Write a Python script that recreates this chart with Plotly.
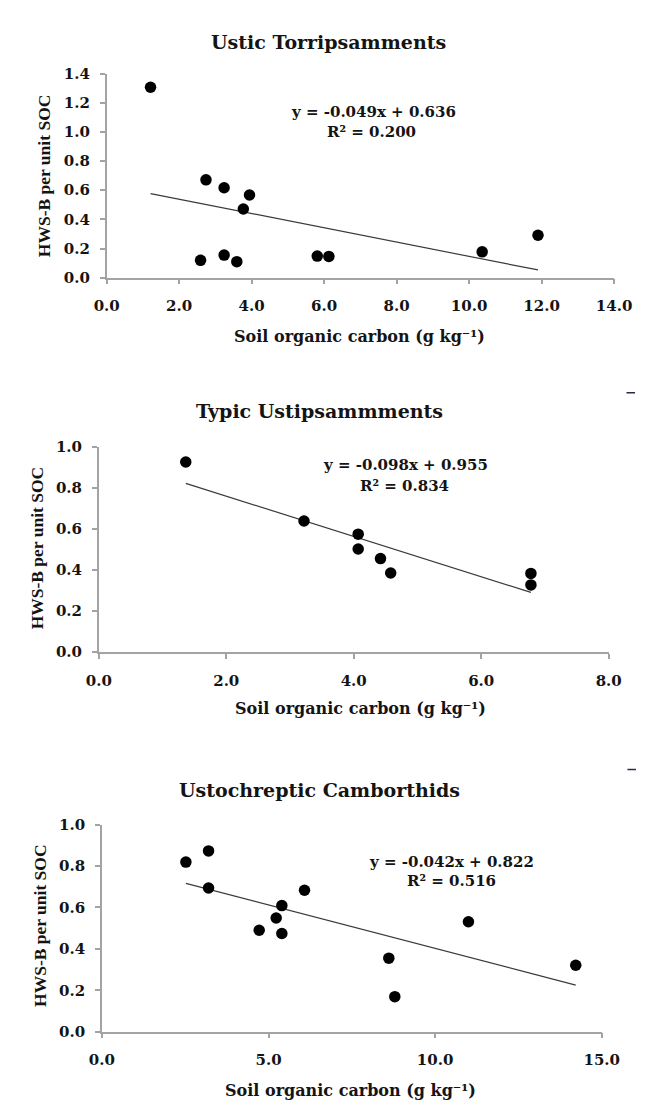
import plotly.graph_objects as go

W, H = 646, 1103

# ---------------- data ----------------
titles = ["Ustic Torripsamments", "Typic Ustipsammments", "Ustochreptic Camborthids"]

soc_1 = [1.21, 2.74, 3.24, 3.94, 3.77, 2.59, 3.24, 3.59, 5.81, 6.13, 10.36, 11.90]
hws_1 = [1.306, 0.671, 0.617, 0.567, 0.471, 0.119, 0.155, 0.110, 0.148, 0.146, 0.177, 0.291]

soc_2 = [1.365, 3.22, 4.07, 4.07, 4.42, 4.58, 6.78, 6.78]
hws_2 = [0.925, 0.638, 0.574, 0.502, 0.455, 0.385, 0.383, 0.327]

soc_3 = [2.52, 3.20, 3.20, 6.08, 5.40, 5.23, 4.72, 5.40, 8.61, 8.79, 11.00, 14.22]
hws_3 = [0.819, 0.873, 0.694, 0.683, 0.609, 0.549, 0.490, 0.474, 0.355, 0.169, 0.531, 0.321]

slopes = [-0.049, -0.098, -0.042]
intercepts = [0.636, 0.955, 0.822]
r2_values = [0.200, 0.834, 0.516]

x_ranges = [[0, 14], [0, 8], [0, 15]]
x_dticks = [2, 2, 5]
y_ranges = [[0, 1.4], [0, 1.0], [0, 1.0]]

x_title = "Soil organic carbon (g kg\u207b\u00b9)"
y_title = "HWS-B per unit SOC"

# ---------------- layout geometry (pixels) ----------------
# plot-area boxes: left, right, top, bottom
boxes = [(90, 623, 57.5, 265), (81.7, 617.3, 436.7, 645.7), (85, 610, 821, 1031.5)]
title_pos = [(323, 25), (314, 401), (314, 786)]
xtitle_pos = [(356, 325), (357, 703), (346, 1091)]
ytitle_pos = [(25, 161), (17, 540), (20, 924)]
eq_pos = [((370, 96.7), (368, 117)), ((404, 455.7), (403, 476.7)), ((452, 859), (452, 878))]

datasets = [(soc_1, hws_1), (soc_2, hws_2), (soc_3, hws_3)]

FONT = "DejaVu Serif"
TXT = "#141414"
AXC = "#a3a3a3"

fig = go.Figure()
layout = dict(
    width=W, height=H, margin=dict(l=0, r=0, t=0, b=0),
    paper_bgcolor="white", plot_bgcolor="white", showlegend=False,
)
annotations = []


def px(x):
    return x / W


def py(y):
    return 1 - y / H


for i, ((xs, ys), (l, r, t, b)) in enumerate(zip(datasets, boxes)):
    sfx = "" if i == 0 else str(i + 1)
    xa, ya = "x" + sfx, "y" + sfx
    # trend line from the equation, over the data's x extent
    lx = [min(xs), max(xs)]
    ly = [slopes[i] * v + intercepts[i] for v in lx]
    fig.add_trace(go.Scatter(x=lx, y=ly, mode="lines",
                             line=dict(color="#3a3a3a", width=1.2),
                             xaxis=xa, yaxis=ya, hoverinfo="skip"))
    fig.add_trace(go.Scatter(x=xs, y=ys, mode="markers",
                             marker=dict(size=11.5, color="black"),
                             xaxis=xa, yaxis=ya, cliponaxis=False))
    tickfont = dict(family=FONT, size=15, color=TXT, weight="bold")
    layout["xaxis" + sfx] = dict(
        domain=[px(l), px(r)], anchor=ya, range=x_ranges[i], dtick=x_dticks[i],
        tick0=0, tickformat=".1f", showline=True, linecolor=AXC, linewidth=1.5,
        ticks="outside", ticklen=5, tickcolor=AXC, tickwidth=1.5,
        showgrid=False, zeroline=False, tickfont=tickfont, ticklabelstandoff=9,
    )
    layout["yaxis" + sfx] = dict(
        domain=[py(b), py(t)], anchor=xa, range=y_ranges[i], dtick=0.2,
        tick0=0, tickformat=".1f", showline=True, linecolor=AXC, linewidth=1.5,
        ticks="outside", ticklen=5, tickcolor=AXC, tickwidth=1.5,
        showgrid=False, zeroline=False, tickfont=tickfont, ticklabelstandoff=7,
    )
    # title
    annotations.append(dict(text=titles[i], x=px(title_pos[i][0]), y=py(title_pos[i][1]),
                            xref="paper", yref="paper", showarrow=False,
                            xanchor="center", yanchor="middle",
                            font=dict(family=FONT, size=19, color=TXT, weight="bold")))
    # x-axis title
    annotations.append(dict(text=x_title,
                            x=px(xtitle_pos[i][0]), y=py(xtitle_pos[i][1]),
                            xref="paper", yref="paper", showarrow=False,
                            xanchor="center", yanchor="middle",
                            font=dict(family=FONT, size=16, color=TXT, weight="bold")))
    # y-axis title
    annotations.append(dict(text=y_title, textangle=-90,
                            x=px(ytitle_pos[i][0]), y=py(ytitle_pos[i][1]),
                            xref="paper", yref="paper", showarrow=False,
                            xanchor="center", yanchor="middle",
                            font=dict(family="Liberation Serif", size=17.5, color=TXT,
                                      weight="bold")))
    # equation and R²
    (ex, ey), (rx, ry) = eq_pos[i]
    annotations.append(dict(text=f"y = {slopes[i]:.3f}x + {intercepts[i]:.3f}",
                            x=px(ex), y=py(ey), xref="paper", yref="paper",
                            showarrow=False, xanchor="center", yanchor="middle",
                            font=dict(family=FONT, size=15, color=TXT, weight="bold")))
    annotations.append(dict(text=f"R² = {r2_values[i]:.3f}",
                            x=px(rx), y=py(ry), xref="paper", yref="paper",
                            showarrow=False, xanchor="center", yanchor="middle",
                            font=dict(family=FONT, size=15, color=TXT, weight="bold")))

layout["annotations"] = annotations
# small stray dashes at the right edge of the source image
layout["shapes"] = [
    dict(type="line", xref="paper", yref="paper", x0=px(636), x1=px(645),
         y0=py(382), y1=py(382), line=dict(color="#2a2a50", width=1.5)),
    dict(type="line", xref="paper", yref="paper", x0=px(637), x1=px(646),
         y0=py(765), y1=py(765), line=dict(color="#2a2a50", width=1.5)),
]
fig.update_layout(**layout)
fig.write_html("out.html")
